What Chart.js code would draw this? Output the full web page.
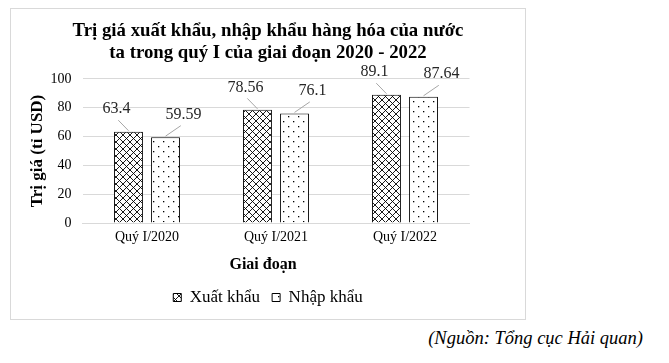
<!DOCTYPE html>
<html>
<head>
<meta charset="utf-8">
<script src="https://cdn.jsdelivr.net/npm/chart.js@4.4.0/dist/chart.umd.min.js"></script>
<style>
  body { margin: 0; background: #fff; }
  .box {
    position: absolute; left: 10px; top: 8px;
    width: 514px; height: 310px;
    border: 1px solid #d9d9d9;
  }
  .source {
    position: absolute; right: 26px; top: 328px;
    font: italic 18.5px "Liberation Serif", serif; color: #000;
  }
</style>
</head>
<body>
<div class="box"><canvas id="chart" width="514" height="310"></canvas></div>
<div class="source">(Nguồn: Tổng cục Hải quan)</div>
<script>
const categories = ["Quý I/2020", "Quý I/2021", "Quý I/2022"];
const xuatKhau = [63.4, 78.56, 89.1];
const nhapKhau = [59.59, 76.1, 87.64];
const seriesNames = ["Xuất khẩu", "Nhập khẩu"];
const yTicks = [0, 20, 40, 60, 80, 100];
const xTitle = "Giai đoạn";

const FONT = "'Liberation Serif', 'Times New Roman', serif";

// fill patterns
function crossHatch() {
  const c = document.createElement("canvas");
  c.width = 7; c.height = 7;
  const g = c.getContext("2d");
  g.fillStyle = "#fff"; g.fillRect(0, 0, 7, 7);
  g.strokeStyle = "#000"; g.lineWidth = 0.9;
  g.beginPath();
  g.moveTo(0, 0); g.lineTo(7, 7);
  g.moveTo(7, 0); g.lineTo(0, 7);
  g.stroke();
  return g.createPattern(c, "repeat");
}
function dots() {
  const c = document.createElement("canvas");
  c.width = 10; c.height = 10;
  const g = c.getContext("2d");
  g.fillStyle = "#fff"; g.fillRect(0, 0, 10, 10);
  g.fillStyle = "#000";
  g.fillRect(2, 2, 1.3, 1.3);
  g.fillRect(7, 7, 1.3, 1.3);
  return g.createPattern(c, "repeat");
}

// value labels with small leader lines + x title centred on the box
const extras = {
  id: "extras",
  afterDatasetsDraw(chart) {
    const ctx = chart.ctx;
    ctx.save();
    ctx.font = "16px " + FONT;
    ctx.textAlign = "center";
    ctx.textBaseline = "middle";
    chart.data.datasets.forEach((ds, i) => {
      const meta = chart.getDatasetMeta(i);
      const dx = i === 0 ? -12 : 18;
      meta.data.forEach((bar, j) => {
        const lx = bar.x + dx, ly = bar.y - 22.5;
        ctx.strokeStyle = "#a6a6a6";
        ctx.lineWidth = 1;
        ctx.beginPath();
        ctx.moveTo(lx + (bar.x - lx) * 0.15, ly + 11);
        ctx.lineTo(bar.x, bar.y - 1);
        ctx.stroke();
        ctx.fillStyle = "#262626";
        ctx.fillText(String(ds.data[j]), lx, ly);
      });
    });
    const xs = chart.scales.x;
    ctx.font = "bold 16px " + FONT;
    ctx.fillStyle = "#000";
    ctx.fillText(xTitle, chart.width / 2 - 5, xs.bottom - 2.5 - 9.6);
    ctx.restore();
  }
};

new Chart(document.getElementById("chart"), {
  type: "bar",
  data: {
    labels: categories,
    datasets: [
      {
        label: seriesNames[0],
        data: xuatKhau,
        backgroundColor: crossHatch(),
        borderColor: "#000",
        borderWidth: 1,
      },
      {
        label: seriesNames[1],
        data: nhapKhau,
        backgroundColor: dots(),
        borderColor: "#000",
        borderWidth: 1,
      },
    ],
  },
  options: {
    responsive: false,
    animation: false,
    categoryPercentage: 0.574,
    barPercentage: 0.78,
    layout: { padding: { left: 0, right: 0, top: 0, bottom: 3 } },
    plugins: {
      title: {
        display: true,
        text: ["Trị giá xuất khẩu, nhập khẩu hàng hóa của nước", "ta trong quý I của giai đoạn 2020 - 2022"],
        font: { family: FONT, size: 18.8, weight: "bold", lineHeight: 1.17 },
        color: "#000",
        padding: { top: 11.5, bottom: 14.5 },
      },
      legend: {
        position: "bottom",
        labels: {
          font: { family: FONT, size: 17 },
          color: "#000",
          boxWidth: 8,
          boxHeight: 8,
          padding: 12,
        },
      },
      tooltip: { enabled: false },
    },
    scales: {
      x: {
        grid: { display: false, drawTicks: false },
        border: { color: "#d9d9d9" },
        ticks: { font: { family: FONT, size: 14 }, color: "#000", padding: 6 },
        title: {
          display: true,
          text: xTitle,
          font: { family: FONT, size: 16, weight: "bold" },
          color: "rgba(0,0,0,0)",
          padding: { top: 3.5, bottom: 2.5 },
        },
      },
      y: {
        min: 0,
        max: 100,
        afterBuildTicks: (axis) => { axis.ticks = yTicks.map((v) => ({ value: v })); },
        afterFit: (axis) => { axis.width = 71.5; },
        grid: { color: "#d9d9d9", drawTicks: false },
        border: { display: false },
        ticks: { font: { family: FONT, size: 14 }, color: "#000", padding: 11 },
        title: {
          display: true,
          text: "Trị giá (tỉ USD)",
          font: { family: FONT, size: 17, weight: "bold" },
          color: "#000",
          padding: { top: 16, bottom: 0 },
        },
      },
      yRight: {
        type: "linear",
        position: "right",
        afterFit: (axis) => { axis.width = 55.5; },
        grid: { display: false, drawTicks: false },
        border: { display: false },
        ticks: { display: false },
      },
    },
  },
  plugins: [extras],
});
</script>
</body>
</html>
